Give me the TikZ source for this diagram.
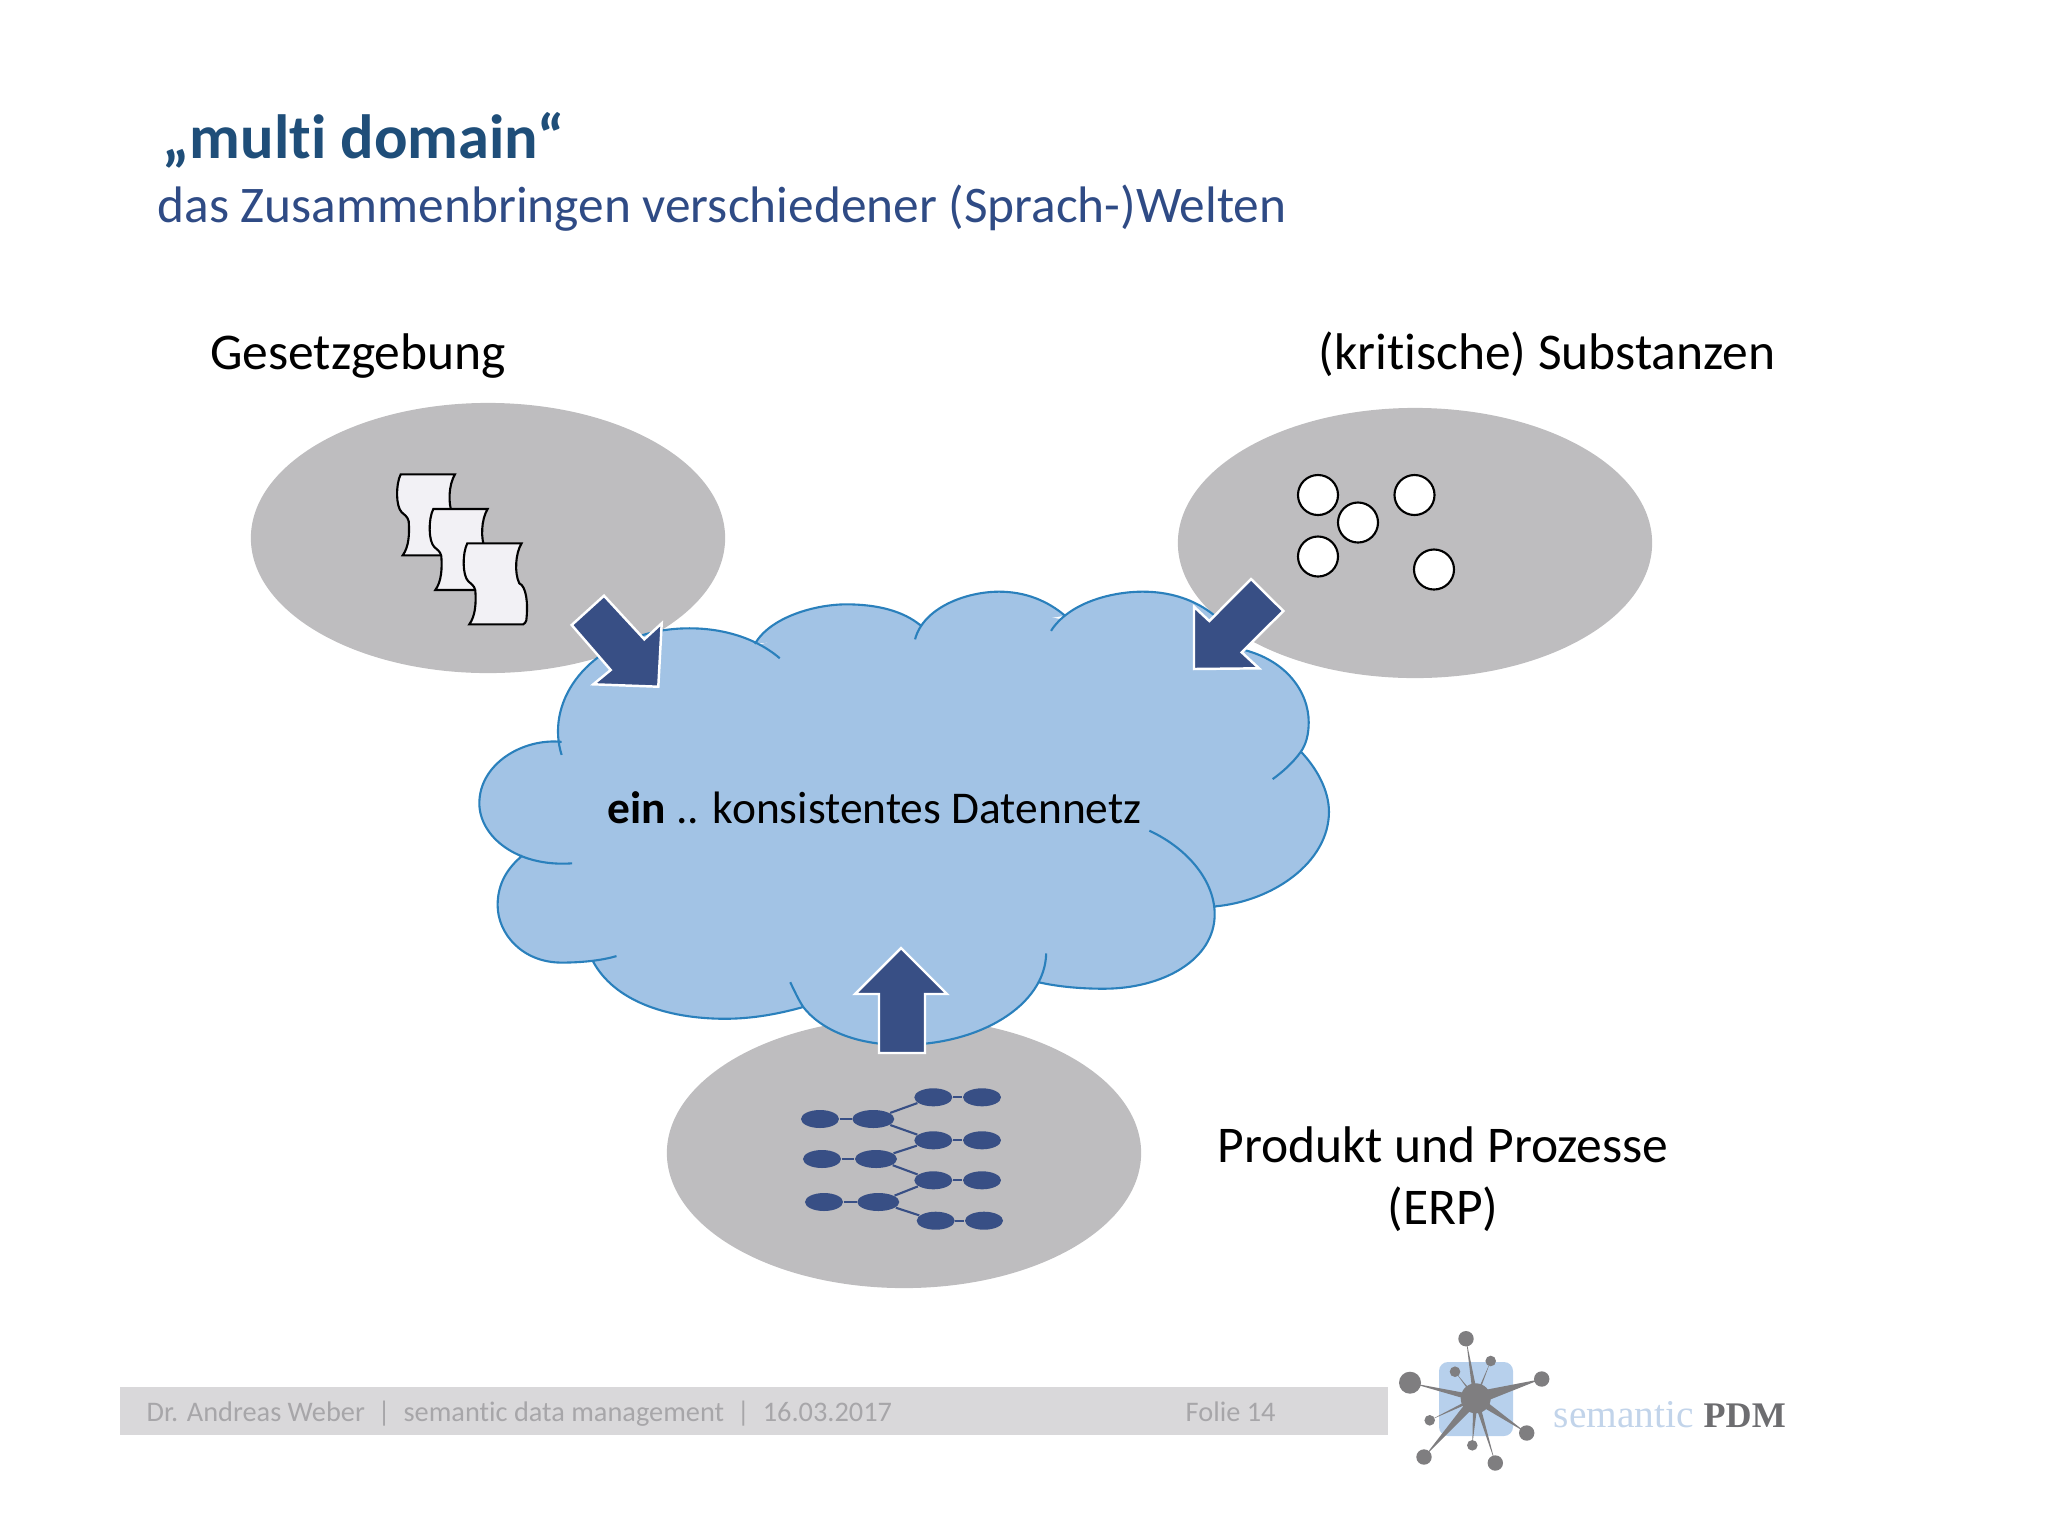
\documentclass[tikz,border=0pt]{standalone}
\usepackage{fontspec}
\usepackage{xcolor}
\setmainfont[Ligatures=NoCommon]{Carlito}
\newfontfamily\logofont{Liberation Serif}
\usetikzlibrary{shapes.geometric,calc}

\definecolor{titleblue}{HTML}{1F4E79}
\definecolor{subblue}{HTML}{2F4B85}
\definecolor{worldgray}{HTML}{BEBDBF}
\definecolor{cloudblue}{HTML}{A2C3E5}
\definecolor{cloudline}{HTML}{2A80BC}
\definecolor{arrowblue}{HTML}{384F85}
\definecolor{sheetgray}{HTML}{F2F1F5}
\definecolor{barfill}{HTML}{D9D8DA}
\definecolor{bartext}{HTML}{A7A6A9}
\definecolor{logogray}{HTML}{7F7E80}
\definecolor{logoblue}{HTML}{B7D0EC}
\definecolor{logosem}{HTML}{C2D4EA}
\definecolor{logopdm}{HTML}{6D6D70}

\tikzset{
  world/.style={ellipse, fill=worldgray, inner sep=0, minimum width=4.74cm, minimum height=2.7cm},
  label/.style={anchor=base, inner sep=0, font=\fontsize{14.65}{17.4}\selectfont},
  block/.style={fill=arrowblue, draw=white, line width=0.7pt, line join=miter},
  substance/.style={circle, draw=black, fill=white, line width=0.6pt, inner sep=0, minimum size=0.4cm},
  step1/.style={ellipse, fill=arrowblue, inner sep=0, minimum width=0.38cm, minimum height=0.18cm},
  step2/.style={step1, minimum width=0.42cm},
  link/.style={draw=arrowblue, line width=0.6pt},
  dot/.style={circle, fill=logogray, inner sep=0, minimum size=#1},
  sheet/.pic={
    \draw[fill=sheetgray, draw=black, line width=0.6pt] (0,0) -- (54.3,0)
      .. controls (48,10) and (47,30) .. (52,40)
      .. controls (59,43) and (61,60) .. (59,77)
      .. controls (58.5,79) and (57.5,80) .. (56,81) -- (2,81)
      .. controls (8,73) and (9,60) .. (8,47)
      .. controls (7,42) and (3,40) .. (1,38)
      .. controls (-5,32) and (-5,10) .. (0,0) -- cycle;
  }
}

\newcommand{\cloudlobes}{
  (430,578) .. controls (418,540) and (445,495) .. (505,483) .. controls (540,477) and (575,485) .. (597,504)
  (578,493) .. controls (590,472) and (625,462.7) .. (648,462.7) .. controls (672,462.7) and (692,468) .. (705,479)
  (700.6,489.5) .. controls (707,465) and (740,453) .. (765,453) .. controls (785,453) and (802,460) .. (815.4,471.4)
  (804.7,483) .. controls (818,462) and (850,453) .. (875,453) .. controls (915,453) and (940,475) .. (950,497)
  (950,497) .. controls (985,505) and (1002,530) .. (1002,553) .. controls (1002,562) and (1000,570) .. (996,575.5) .. controls (990,584) and (982,591) .. (974.4,596.5)
  (996,575.5) .. controls (1008,588) and (1017.5,605) .. (1017.5,621.5) .. controls (1017.5,660) and (975,690) .. (930,694)
  (880,636) .. controls (910,650) and (930,675) .. (930,700) .. controls (930,735) and (890,757) .. (845,757) .. controls (825,757) and (808,755) .. (795,752)
  (801,730) .. controls (800,770) and (750,800) .. (690,800) .. controls (655,800) and (628,788) .. (615,771) .. controls (611,765) and (608,758) .. (605,752)
  (615,771) .. controls (597,776) and (577,780) .. (555,780) .. controls (510,780) and (470,766) .. (454,736)
  (472,732) .. controls (462,735) and (447,737) .. (430,737) .. controls (400,737) and (381,715) .. (381,693) .. controls (381,677) and (388,665) .. (400,655)
  (438,661) .. controls (395,664) and (367,640) .. (367,615) .. controls (367,585) and (400,565) .. (430,568)
}

\begin{document}
\begin{tikzpicture}[x=0.01cm, y=-0.01cm]
      \useasboundingbox (0,0) rectangle (2048,1536);

      \node[anchor=base west, inner sep=0, text=titleblue, font=\fontsize{17.76}{20}\selectfont\bfseries] (title) at (162,158) {„multi domain“};
      \node[anchor=base west, inner sep=0, text=subblue, font=\fontsize{14.6}{18}\selectfont] (subtitle) at (157,222) {das Zusammenbringen verschiedener (Sprach-)Welten};

      \node[label] (lawlabel) at (358,369) {Gesetzgebung};
      \node[label] (substlabel) at (1547,369) {(kritische) Substanzen};
      \node[label, align=center, anchor=base] (erplabel) at (1443,1224) {Produkt und Prozesse\\(ERP)};

      \node[world] (law) at (488,538) {};
      \node[world] (subst) at (1415,543) {};
      \node[world] (erp) at (904,1153) {};

      \pic at (400.7,474.3) {sheet};
      \pic at (433.3,509) {sheet};
      \pic at (467.3,543.3) {sheet};

      \node[substance] (s1) at (1318,495) {};
      \node[substance] (s2) at (1414.5,495) {};
      \node[substance] (s3) at (1358,522.5) {};
      \node[substance] (s4) at (1318,556.5) {};
      \node[substance] (s5) at (1434,569.5) {};

      \node[step1] (a1) at (820,1119) {};
      \node[step2] (a2) at (873.3,1119) {};
      \node[step1] (b1) at (822,1159) {};
      \node[step2] (b2) at (876,1159) {};
      \node[step1] (c1) at (824,1202) {};
      \node[step2] (c2) at (878.3,1202) {};
      \node[step1] (d1) at (933.3,1097.3) {};
      \node[step1] (d2) at (982,1097.3) {};
      \node[step1] (e1) at (933.3,1140.3) {};
      \node[step1] (e2) at (982,1140.3) {};
      \node[step1] (f1) at (933.3,1180.3) {};
      \node[step1] (f2) at (982,1180.3) {};
      \node[step1] (g1) at (935.7,1220.7) {};
      \node[step1] (g2) at (984,1220.7) {};
      \draw[link] (a1) -- (a2);
      \draw[link] (b1) -- (b2);
      \draw[link] (c1) -- (c2);
      \draw[link] (d1) -- (d2);
      \draw[link] (e1) -- (e2);
      \draw[link] (f1) -- (f2);
      \draw[link] (g1) -- (g2);
      \draw[link] (a2) -- (d1);
      \draw[link] (a2) -- (e1);
      \draw[link] (b2) -- (e1);
      \draw[link] (b2) -- (f1);
      \draw[link] (c2) -- (f1);
      \draw[link] (c2) -- (g1);

      \begin{scope}[scale=1.3061]
        \fill[cloudblue] (432,570) -- (505,495) -- (578,495) -- (650,470) -- (708,478) -- (765,465) -- (812,474) -- (875,470) -- (950,500) -- (990,553) -- (1000,600) -- (950,680) -- (924,700) -- (845,740) -- (780,755) -- (690,790) -- (616,771) -- (555,770) -- (466,745) -- (454,736) -- (430,725) -- (390,693) -- (402,656) -- (380,615) -- cycle;
        \fill[cloudblue] \cloudlobes;
        \draw[cloudline, line width=0.6pt] \cloudlobes;
      \end{scope}

      \node[anchor=base west, inner sep=0, font=\fontsize{12.92}{16}\selectfont] (net) at (607,823) {\textbf{ein} .. konsistentes Datennetz};

      \draw[block] (604,595.7) -- (644.3,639.3) -- (661.7,623.3) -- (658.3,686.7) -- (593.3,684.3) -- (610.7,670) -- (571.7,625) -- cycle;
      \draw[block] (1251,579) -- (1283.3,611) -- (1241.7,652.3) -- (1259,668.3) -- (1194,669) -- (1194,606.7) -- (1209.3,621) -- cycle;
      \draw[block] (901,948) -- (947,994) -- (925,994) -- (925,1053) -- (879,1053) -- (879,994) -- (855,994) -- cycle;

      \fill[barfill] (120,1387) rectangle (1388,1435);
      \node[anchor=base west, inner sep=0, text=bartext, font=\fontsize{8.06}{10}\selectfont] (footer) at (146,1421) {Dr. Andreas Weber ~|~ semantic data management ~|~ 16.03.2017};
      \node[anchor=base west, inner sep=0, text=bartext, font=\fontsize{8.06}{10}\selectfont] (folie) at (1185,1421) {Folie 14};

      \fill[logoblue, rounded corners=0.09cm] (1439,1362) rectangle (1513,1436);
      \node[dot=0.3cm] (hub) at (1475.7,1398.3) {};
      \foreach \name/\px/\py/\size/\wide in {p1/1466/1338.7/0.154/0.025, p2/1490.7/1361/0.106/0.012, p3/1455/1371.7/0.106/0.012, p4/1410/1382.7/0.22/0.033, p5/1541.7/1379/0.154/0.065, p6/1429.7/1420.3/0.106/0.018, p7/1526.7/1433/0.154/0.04, p8/1472.3/1445.3/0.106/0.025, p9/1424/1457/0.154/0.05, p10/1495.3/1463/0.154/0.025} {
        \node[dot=\size cm] (\name) at (\px,\py) {};
        \fill[logogray] ($(hub)!\wide cm!90:(\name)$) -- (\name.center) -- ($(hub)!\wide cm!-90:(\name)$) -- cycle;
      }
      \node[anchor=base west, inner sep=0, text=logosem, font=\logofont\fontsize{11.2}{13}\selectfont] (logosem) at (1553,1427) {semantic};
      \node[anchor=base west, inner sep=0, text=logopdm, font=\logofont\fontsize{10.25}{13}\selectfont\bfseries] (logopdm) at (1703,1427) {PDM};

    \end{tikzpicture}
\end{document}
